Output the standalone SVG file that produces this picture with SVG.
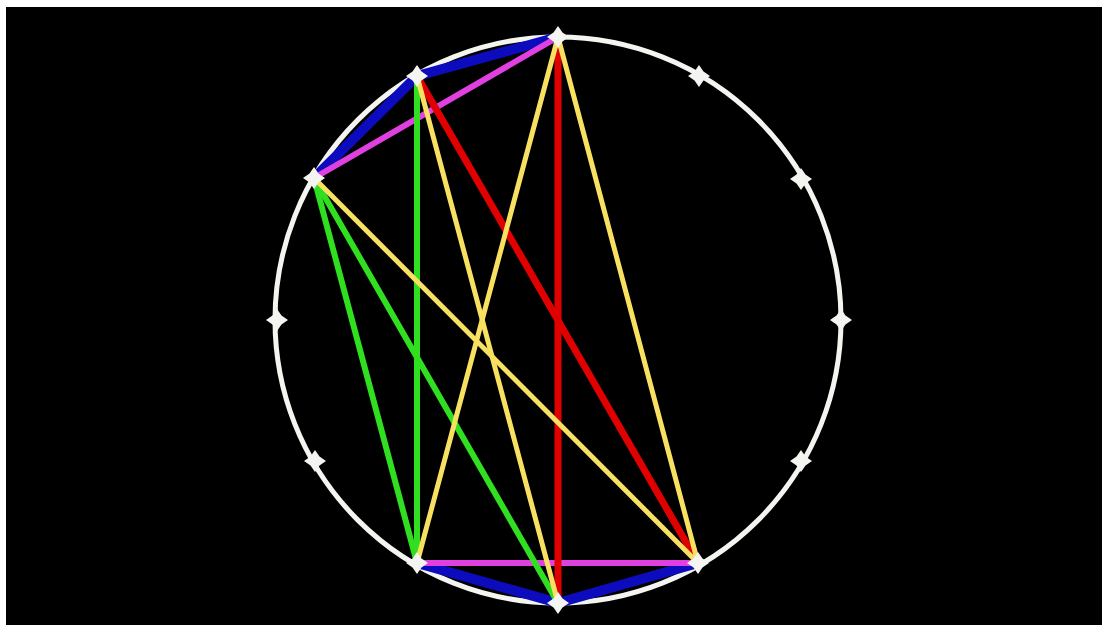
<svg xmlns="http://www.w3.org/2000/svg" width="1102" height="625" viewBox="0 0 1102 625">
<defs>
<style>
.e{fill:none;stroke-linecap:round}
.b{stroke:#0c0cbe;stroke-width:10}
.m{stroke:#e040e0;stroke-width:6}
.r{stroke:#e00000;stroke-width:7}
.g{stroke:#30e020;stroke-width:6}
.y{stroke:#f8e060;stroke-width:5}
.n{fill:#f4f4f0}
</style>
<path id="star" d="M0,-11 L4.5,-4.5 L11,0 L4.5,4.5 L0,11 L-4.5,4.5 L-11,0 L-4.5,-4.5 Z"/>
</defs>
<rect width="1102" height="625" fill="#ffffff"/>
<rect x="6" y="7" width="1096" height="618" fill="#000000"/>
<circle cx="558" cy="320" r="283" fill="none" stroke="#f4f4f0" stroke-width="5"/>
<g id="connectors">
<line class="e b" x1="558" y1="37" x2="417" y2="76"/>
<line class="e b" x1="417" y1="76" x2="314" y2="178"/>
<line class="e b" x1="417" y1="563" x2="558" y2="603"/>
<line class="e b" x1="558" y1="603" x2="698" y2="563"/>
<line class="e m" x1="558" y1="37" x2="314" y2="178"/>
<line class="e m" x1="417" y1="563" x2="698" y2="563"/>
<line class="e r" x1="417" y1="76" x2="698" y2="563"/>
<line class="e r" x1="558" y1="37" x2="558" y2="603"/>
<line class="e g" x1="417" y1="76" x2="417" y2="563"/>
<line class="e g" x1="314" y1="178" x2="417" y2="563"/>
<line class="e g" x1="314" y1="178" x2="558" y2="603"/>
<line class="e y" x1="558" y1="37" x2="417" y2="563"/>
<line class="e y" x1="558" y1="37" x2="698" y2="563"/>
<line class="e y" x1="417" y1="76" x2="558" y2="603"/>
<line class="e y" x1="314" y1="178" x2="698" y2="563"/>
</g>
<g id="n0"><use href="#star" class="n" x="558" y="37"/></g>
<g id="n1"><use href="#star" class="n" x="699" y="76"/></g>
<g id="n2"><use href="#star" class="n" x="801" y="179"/></g>
<g id="n3"><use href="#star" class="n" x="841" y="320"/></g>
<g id="n4"><use href="#star" class="n" x="801" y="461"/></g>
<g id="n5"><use href="#star" class="n" x="698" y="563"/></g>
<g id="n6"><use href="#star" class="n" x="558" y="603"/></g>
<g id="n7"><use href="#star" class="n" x="417" y="563"/></g>
<g id="n8"><use href="#star" class="n" x="315" y="461"/></g>
<g id="n9"><use href="#star" class="n" x="277" y="320"/></g>
<g id="n10"><use href="#star" class="n" x="314" y="178"/></g>
<g id="n11"><use href="#star" class="n" x="417" y="76"/></g>
</svg>
